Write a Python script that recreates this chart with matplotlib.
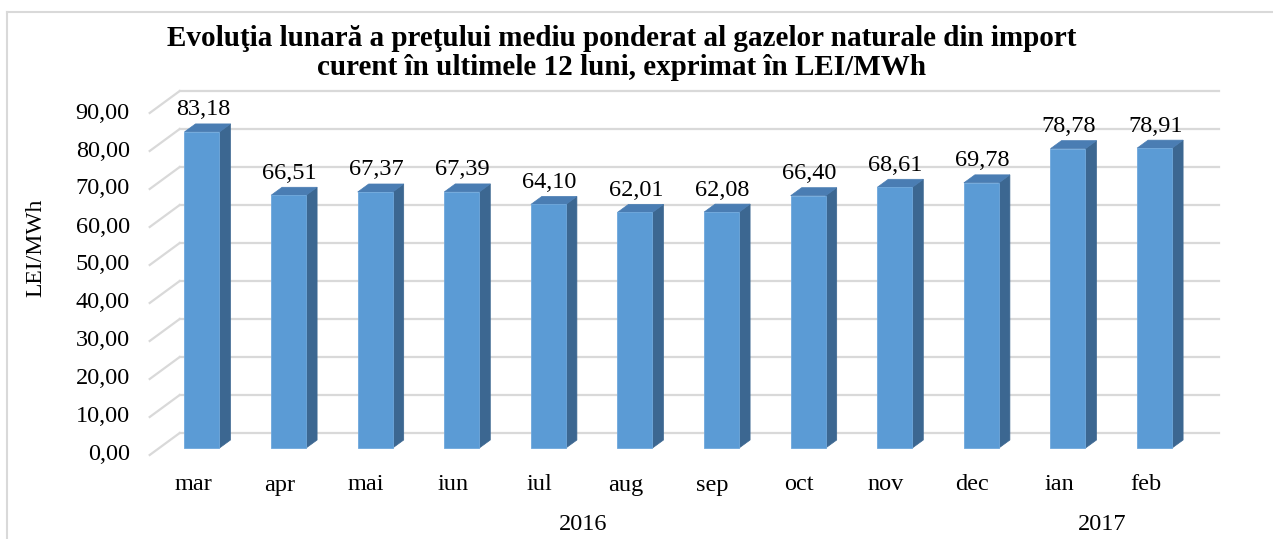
import matplotlib
matplotlib.use("Agg")
import matplotlib.pyplot as plt
from matplotlib.patches import Polygon, Rectangle
from matplotlib.lines import Line2D

months = ["mar", "apr", "mai", "iun", "iul", "aug", "sep", "oct", "nov", "dec", "ian", "feb"]
values = [83.18, 66.51, 67.37, 67.39, 64.10, 62.01, 62.08, 66.40, 68.61, 69.78, 78.78, 78.91]
years = ["2016", "2017"]
year_spans = [(0, 9), (10, 11)]
yticks = [0, 10, 20, 30, 40, 50, 60, 70, 80, 90]
title1 = "Evoluţia lunară a preţului mediu ponderat al gazelor naturale din import"
title2 = "curent în ultimele 12 luni, exprimat în LEI/MWh"
ylabel = "LEI/MWh"

plt.rcParams['font.family'] = ['Liberation Serif', 'DejaVu Serif']

W, H = 1273, 539
fig = plt.figure(figsize=(W / 100, H / 100), dpi=100)

# axes geometry in pixels
cat_px = 86.6
left_px = 158.7
base_px = 448  # from top
ppy = 3.8      # px per unit
ax = fig.add_axes([left_px / W, (H - base_px) / H, 12 * cat_px / W, 90 * ppy / H])
ax.set_xlim(-0.5, 11.5)
ax.set_ylim(0, 90)
ax.axis('off')

def dxu(px):
    return px / cat_px

def dyu(px):
    return px / ppy

FS = 17.5
grid_c = "#D9D9D9"
# back wall gridlines and left-wall slants
bx, by = dxu(21), dyu(15)
fx, fy = dxu(-9), dyu(-7)
for v in yticks:
    ax.add_line(Line2D([-0.5 + bx, 11.5 + bx], [v + by, v + by], color=grid_c, lw=1.6, clip_on=False, zorder=1))
    ax.add_line(Line2D([-0.5 + fx, -0.5 + bx], [v + fy, v + by], color=grid_c, lw=1.6, clip_on=False, zorder=1))
    ax.text(-0.5 + dxu(-29), v + fy, f"{v:.2f}".replace(".", ","), ha='right', va='center',
            fontsize=FS, color="#000000", clip_on=False)

# 3D bars
bw = 35 / cat_px
DX, DY = dxu(11), dyu(8)
front_c = "#5B9BD5"
side_c = "#3C6791"
top_c = "#4A7DB3"
for i, v in enumerate(values):
    x0, x1 = i - bw / 2, i + bw / 2
    ax.add_patch(Polygon([(x1, 0), (x1 + DX, DY), (x1 + DX, v + DY), (x1, v)], closed=True,
                         facecolor=side_c, edgecolor=side_c, lw=0.5, zorder=3, clip_on=False))
    ax.add_patch(Polygon([(x0, v), (x0 + DX, v + DY), (x1 + DX, v + DY), (x1, v)], closed=True,
                         facecolor=top_c, edgecolor=top_c, lw=0.5, zorder=3, clip_on=False))
    ax.add_patch(Rectangle((x0, 0), bw, v, facecolor=front_c, edgecolor="#6FA8DC", lw=0.6,
                           zorder=4, clip_on=False))
    ax.text(i + 0.01, v + dyu(22), f"{v:.2f}".replace(".", ","), ha='center', va='center',
            fontsize=FS, color="#000000", clip_on=False, zorder=5)
    ax.text(i + fx, dyu(-37), months[i], ha='center', va='center', fontsize=FS, clip_on=False)

for yr, (a, b) in zip(years, year_spans):
    ax.text((a + b) / 2 + fx, dyu(-76), yr, ha='center', va='center', fontsize=FS, clip_on=False)

# y label
fig.text(36 / W, 1 - 248 / H, ylabel, rotation=90, ha='center', va='center', fontsize=17)

# title
fig.text(622 / W, 1 - 39 / H, title1, ha='center', va='center', fontsize=21, fontweight='bold')
fig.text(622 / W, 1 - 67 / H, title2, ha='center', va='center', fontsize=21, fontweight='bold')

# chart frame
fig.add_artist(Line2D([7 / W, 7 / W], [0, 1 - 12 / H], color=grid_c, lw=1.5, transform=fig.transFigure))
fig.add_artist(Line2D([7 / W, 1], [1 - 12 / H, 1 - 12 / H], color=grid_c, lw=1.5, transform=fig.transFigure))

fig.savefig("out.png", dpi=100)
